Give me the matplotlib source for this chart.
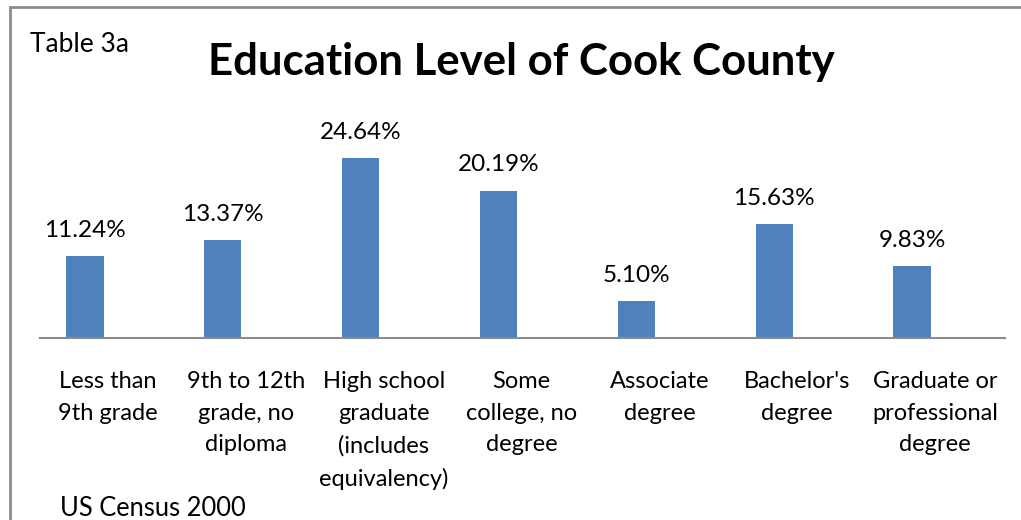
import matplotlib
matplotlib.use("Agg")
import matplotlib.pyplot as plt
from matplotlib.patches import Rectangle

categories = ["Less than\n9th grade", "9th to 12th\ngrade, no\ndiploma",
              "High school\ngraduate\n(includes\nequivalency)", "Some\ncollege, no\ndegree",
              "Associate\ndegree", "Bachelor's\ndegree", "Graduate or\nprofessional\ndegree"]
values = [11.24, 13.37, 24.64, 20.19, 5.10, 15.63, 9.83]

plt.rcParams["font.family"] = ["Lato", "DejaVu Sans"]

W, H = 1021, 520
fig = plt.figure(figsize=(W / 100, H / 100), dpi=100)

# outer chart border (cropped on right and bottom)
fig.patches.append(Rectangle((10 / W, -0.1), 1.2, 1 - 7 / H + 0.1, transform=fig.transFigure,
                             fill=False, edgecolor="#8c8c8c", linewidth=2, clip_on=False))

ax = fig.add_axes([40 / W, (H - 338) / H, 965 / W, (338 - 119) / H])
x = list(range(len(values)))
ax.bar(x, values, width=0.27, color="#4F81BD")
ax.set_xlim(-0.327, 6.675)
ax.set_ylim(0, 30)

for xi, v in zip(x, values):
    ax.annotate("%.2f%%" % v, (xi, v), xytext=(0, 18.5), textcoords="offset points",
                ha="center", va="center", fontsize=17.5)

ax.set_xticks([xi + 0.167 for xi in x])
ax.set_xticklabels(categories, fontsize=17, linespacing=1.62, va="top")
ax.tick_params(axis="x", length=0, pad=24)
ax.set_yticks([])
for s in ["top", "right", "left"]:
    ax.spines[s].set_visible(False)
ax.spines["bottom"].set_color("#8c8c8c")
ax.spines["bottom"].set_linewidth(1.5)

fig.text(521 / W, 1 - 62 / H, "Education Level of Cook County", ha="center", va="center",
         fontsize=31.5, fontweight="bold")
fig.text(30 / W, 1 - 45 / H, "Table 3a", ha="left", va="center", fontsize=19)
fig.text(60 / W, 1 - 509 / H, "US Census 2000", ha="left", va="center", fontsize=18.4)

fig.savefig("out.png", dpi=100)
